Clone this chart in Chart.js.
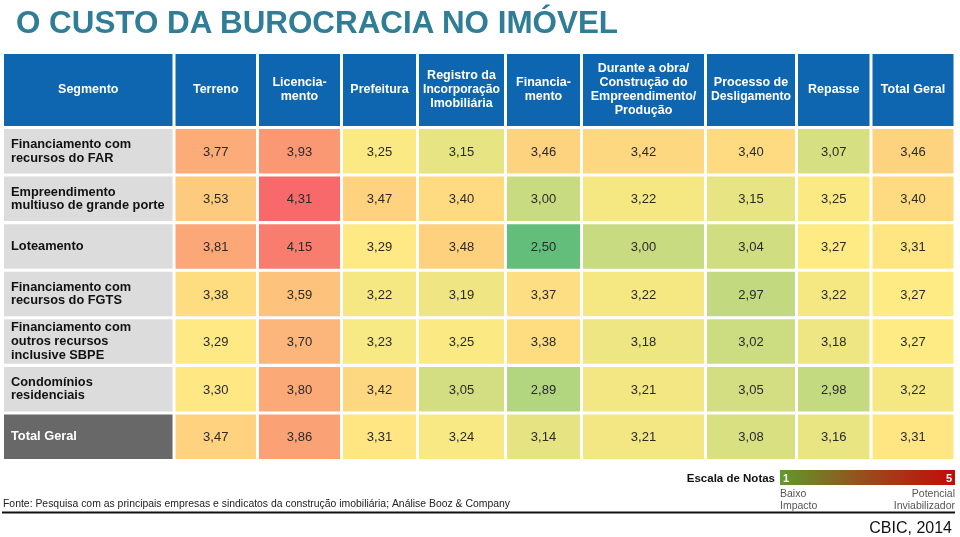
<!DOCTYPE html>
<html><head><meta charset="utf-8">
<script src="https://cdn.jsdelivr.net/npm/chart.js@4.4.1/dist/chart.umd.min.js"></script>
<style>
html,body{margin:0;padding:0;background:#fff;width:960px;height:537px;overflow:hidden}
#wrap{position:relative;width:960px;height:537px}
#c{position:absolute;left:0;top:0}
#title{position:absolute;left:16px;top:6px;font:bold 32px "Liberation Sans",Arial,sans-serif;line-height:32px;color:#2f7d96;white-space:nowrap;transform-origin:0 0}
#cbic{position:absolute;left:0;top:0;font:16px "Liberation Sans",Arial,sans-serif;line-height:16px;color:#111;white-space:nowrap}
</style></head>
<body><div id="wrap"><canvas id="c" width="960" height="537"></canvas>
<div id="title">O CUSTO DA BUROCRACIA NO IMÓVEL</div>
<div id="cbic">CBIC, 2014</div></div>
<script>
// ---------- DATA ----------
const segments = [
  ["Financiamento com", "recursos do FAR"],
  ["Empreendimento", "multiuso de grande porte"],
  ["Loteamento"],
  ["Financiamento com", "recursos do FGTS"],
  ["Financiamento com", "outros recursos", "inclusive SBPE"],
  ["Condomínios", "residenciais"],
  ["Total Geral"]
];
const headers = [
  ["Segmento"],
  ["Terreno"],
  ["Licencia-", "mento"],
  ["Prefeitura"],
  ["Registro da", "Incorporação", "Imobiliária"],
  ["Financia-", "mento"],
  ["Durante a obra/", "Construção do", "Empreendimento/", "Produção"],
  ["Processo de", "Desligamento"],
  ["Repasse"],
  ["Total Geral"]
];
const terreno       = [3.77, 3.53, 3.81, 3.38, 3.29, 3.30, 3.47];
const licenciamento = [3.93, 4.31, 4.15, 3.59, 3.70, 3.80, 3.86];
const prefeitura    = [3.25, 3.47, 3.29, 3.22, 3.23, 3.42, 3.31];
const registro      = [3.15, 3.40, 3.48, 3.19, 3.25, 3.05, 3.24];
const financiamento = [3.46, 3.00, 2.50, 3.37, 3.38, 2.89, 3.14];
const duranteObra   = [3.42, 3.22, 3.00, 3.22, 3.18, 3.21, 3.21];
const desligamento  = [3.40, 3.15, 3.04, 2.97, 3.02, 3.05, 3.08];
const repasse       = [3.07, 3.25, 3.27, 3.22, 3.18, 2.98, 3.16];
const totalGeral    = [3.46, 3.40, 3.31, 3.27, 3.27, 3.22, 3.31];
const series = [terreno, licenciamento, prefeitura, registro, financiamento, duranteObra, desligamento, repasse, totalGeral];
const sourceText = "Fonte: Pesquisa com as principais empresas e sindicatos da construção imobiliária; Análise Booz & Company";
const scaleTitle = "Escala de Notas";
const scaleMin = "1", scaleMax = "5";
const scaleLow = ["Baixo", "Impacto"];
const scaleHigh = ["Potencial", "Inviabilizador"];

// ---------- LAYOUT (column edges in x-units, not data) ----------
const COL_EDGES = [0, 171.5, 255, 339, 415, 503, 579, 703, 794, 868.5, 952.5];
const INSET = 1.5;

// ---------- colour scale (Excel 3-colour) ----------
const all = series.flat();
const vMin = Math.min(...all), vMax = Math.max(...all);
const sorted = [...all].sort((a,b)=>a-b);
const vMid = sorted[Math.floor(sorted.length/2)];
const GREEN=[99,190,123], YEL=[255,235,132], RED=[248,105,107];
function mix(a,b,t){return a.map((c,i)=>Math.round(c+(b[i]-c)*t));}
function colorFor(v){
  let c;
  if (v<=vMid) c = mix(GREEN, YEL, (v-vMin)/(vMid-vMin));
  else c = mix(YEL, RED, (v-vMid)/(vMax-vMid));
  return `rgb(${c[0]},${c[1]},${c[2]})`;
}

const rowKeys = segments.map(s=>s.join(" "));
const datasets = [];
datasets.push({
  label: "Segmento",
  data: rowKeys.map((k,j)=>({y:k, x:[COL_EDGES[0]+INSET, COL_EDGES[1]-INSET], seg: segments[j]})),
  backgroundColor: rowKeys.map((k,j)=> j===rowKeys.length-1 ? "#686868" : "#dcdcdc")
});
series.forEach((vals,i)=>{
  datasets.push({
    label: headers[i+1].join(" "),
    data: vals.map((v,j)=>({y:rowKeys[j], x:[COL_EDGES[i+1]+INSET, COL_EDGES[i+2]-INSET], v})),
    backgroundColor: vals.map(colorFor)
  });
});

const FONT = '"Liberation Sans", Arial, sans-serif';

const tablePlugin = {
  id: "tablePlugin",
  beforeDatasetsDraw(chart){
    const ctx = chart.ctx, xs = chart.scales.x;
    ctx.save();
    headers.forEach((lines,i)=>{
      const x0 = xs.getPixelForValue(COL_EDGES[i]+INSET), x1 = xs.getPixelForValue(COL_EDGES[i+1]-INSET);
      ctx.fillStyle = "#0f66b0";
      ctx.fillRect(x0, 54, x1-x0, 72);
      ctx.fillStyle = "#ffffff";
      ctx.font = "bold 12.5px " + FONT;
      ctx.textAlign = "center"; ctx.textBaseline = "middle";
      const lh = 14, cy = 90;
      lines.forEach((t,k)=>{
        ctx.fillText(t, (x0+x1)/2, cy + (k-(lines.length-1)/2)*lh, (x1-x0)-8);
      });
    });
    ctx.restore();
  },
  afterDatasetsDraw(chart){
    const ctx = chart.ctx;
    ctx.save();
    chart.data.datasets.forEach((ds,i)=>{
      const meta = chart.getDatasetMeta(i);
      meta.data.forEach((el,j)=>{
        const raw = ds.data[j];
        const p = el.getCenterPoint();
        if (i===0){
          ctx.fillStyle = j===segments.length-1 ? "#ffffff" : "#111111";
          ctx.font = "bold 12.8px " + FONT;
          ctx.textAlign = "left"; ctx.textBaseline = "middle";
          const lh = 13.6;
          raw.seg.forEach((t,k)=>{
            ctx.fillText(t, el.base + 7, p.y + (k-(raw.seg.length-1)/2)*lh);
          });
        } else {
          ctx.fillStyle = "#2a2a2a";
          ctx.font = "13px " + FONT;
          ctx.textAlign = "center"; ctx.textBaseline = "middle";
          ctx.fillText(raw.v.toFixed(2).replace(".", ","), p.x, p.y + 1);
        }
      });
    });
    ctx.restore();
  },
  afterDraw(chart){
    const ctx = chart.ctx;
    ctx.save();
    ctx.font = "bold 11.5px " + FONT;
    ctx.fillStyle = "#111"; ctx.textAlign = "right"; ctx.textBaseline = "alphabetic";
    ctx.fillText(scaleTitle, 775, 482);
    const g = ctx.createLinearGradient(780,0,955,0);
    g.addColorStop(0, "#5f9a2c");
    g.addColorStop(0.5, "#9a4a1c");
    g.addColorStop(1, "#c40a0a");
    ctx.fillStyle = g;
    ctx.fillRect(780, 470, 175, 15);
    ctx.fillStyle = "#ffffff"; ctx.font = "bold 11px " + FONT;
    ctx.textAlign = "left"; ctx.fillText(scaleMin, 783, 482);
    ctx.textAlign = "right"; ctx.fillText(scaleMax, 952, 482);
    ctx.fillStyle = "#555";
    ctx.font = '10.5px "Liberation Sans Narrow", ' + FONT;
    function fitText(t, x, y, w, align){
      const m = ctx.measureText(t).width;
      ctx.save();
      ctx.translate(x, y);
      ctx.scale(w/m, 1);
      ctx.textAlign = align;
      ctx.fillText(t, 0, 0);
      ctx.restore();
    }
    ctx.textAlign = "left";
    ctx.fillText(scaleLow[0], 780, 497);
    ctx.fillText(scaleLow[1], 780, 509);
    ctx.textAlign = "right";
    ctx.fillText(scaleHigh[0], 955, 497);
    ctx.fillText(scaleHigh[1], 955, 509);
    ctx.fillStyle = "#222";
    ctx.font = '11px "Liberation Sans Narrow", ' + FONT;
    fitText(sourceText, 3, 507, 507, "left");
    ctx.fillStyle = "#111";
    ctx.fillRect(2, 511.5, 953, 2);
    ctx.restore();
  }
};

new Chart(document.getElementById("c"), {
  type: "bar",
  data: { labels: rowKeys, datasets },
  options: {
    indexAxis: "y",
    responsive: false,
    animation: false,
    devicePixelRatio: 1,
    layout: { padding: { left: 2.5, right: 5, top: 127.5, bottom: 76.5 } },
    datasets: { bar: { grouped: false, barPercentage: 0.935, categoryPercentage: 1, borderWidth: 0 } },
    scales: {
      x: { type: "linear", min: 0, max: 952.5, display: false },
      y: { type: "category", display: false }
    },
    plugins: { legend: { display: false }, tooltip: { enabled: false } }
  },
  plugins: [tablePlugin]
});

(function(){
  const t = document.getElementById("title");
  const w = t.getBoundingClientRect().width;
  t.style.transform = "scaleX(" + (602 / w) + ")";
  const c = document.getElementById("cbic");
  const cw = c.getBoundingClientRect().width;
  c.style.left = (952 - cw) + "px";
  c.style.top = (534 - 14.5) + "px";
})();
</script>
</body></html>
